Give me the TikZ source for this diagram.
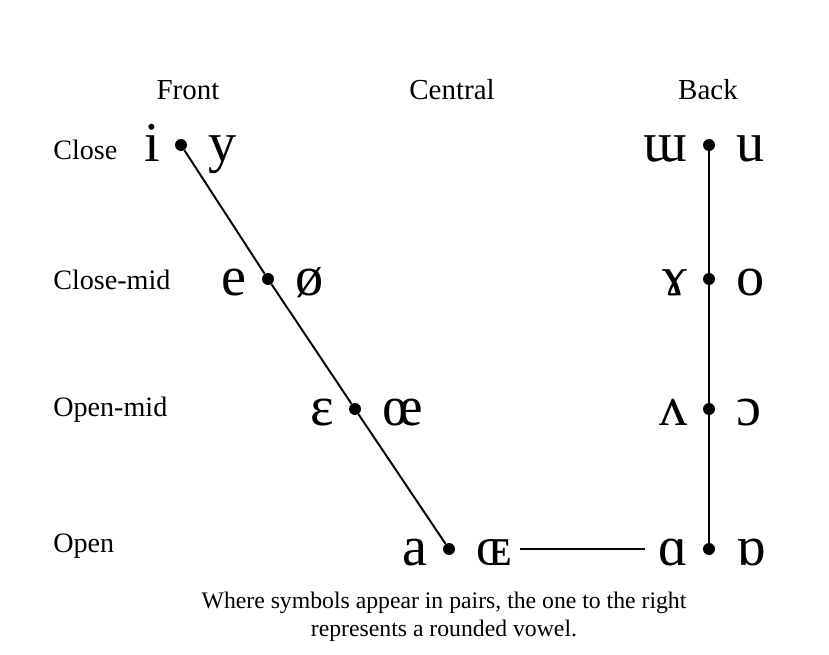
\documentclass[tikz,border=0pt]{standalone}
\usepackage{fontspec}
\setmainfont{Liberation Serif}
\begin{document}
\begin{tikzpicture}[x=0.02cm, y=-0.02cm,
        dot/.style={circle, fill, inner sep=0pt, minimum size=0.24cm},
        vowel/.style={font=\fontsize{32}{32}\selectfont, inner sep=0pt, yshift=-9.5pt},
        unrounded/.style={vowel, anchor=base east, xshift=-0.42cm},
        rounded/.style={vowel, anchor=base west, xshift=0.55cm},
        heading/.style={font=\fontsize{16.5}{18}\selectfont},
        height/.style={font=\fontsize{16}{18}\selectfont, anchor=west, inner sep=0pt},
        line/.style={line width=1.1pt}
    ]

    \useasboundingbox (0,0) rectangle (829,655);

    % Column headings
    \node[heading] (front) at (188,90) {Front};
    \node[heading] (central) at (452,90) {Central};
    \node[heading] (back) at (708,90) {Back};

    % Row headings
    \node[height] (close) at (53,150) {Close};
    \node[height] (closemid) at (53,280) {Close-mid};
    \node[height] (openmid) at (53,410) {Open-mid};
    \node[height] (open) at (53,546) {Open};

    % Front dots
    \node[dot] (f1) at (181,145) {};
    \node[dot] (f2) at (268,279) {};
    \node[dot] (f3) at (355,409) {};
    \node[dot] (f4) at (449,549) {};

    % Back dots
    \node[dot] (b1) at (709,145) {};
    \node[dot] (b2) at (709,279) {};
    \node[dot] (b3) at (709,409) {};
    \node[dot] (b4) at (709,549) {};

    % Front vowels
    \node[unrounded] (vi) at (f1) {i};
    \node[rounded] (vy) at (f1) {y};
    \node[unrounded] (ve) at (f2) {e};
    \node[rounded] (vslo) at (f2) {ø};
    \node[unrounded] (veps) at (f3) {ɛ};
    \node[rounded] (voe) at (f3) {œ};
    \node[unrounded] (va) at (f4) {a};
    \node[rounded] (vOE) at (f4) {ɶ};

    % Back vowels
    \node[unrounded] (vturnm) at (b1) {ɯ};
    \node[rounded] (vu) at (b1) {u};
    \node[unrounded] (vram) at (b2) {ɤ};
    \node[rounded] (vo) at (b2) {o};
    \node[unrounded] (vturnv) at (b3) {ʌ};
    \node[rounded] (vopeno) at (b3) {ɔ};
    \node[unrounded] (vscripta) at (b4) {ɑ};
    \node[rounded] (vturna) at (b4) {ɒ};

    % Connectors
    \draw[line] (f1) -- (f2) -- (f3) -- (f4);
    \draw[line] (b1) -- (b2) -- (b3) -- (b4);
    \draw[line, shorten <=0.14cm, shorten >=0.26cm] (vOE.east |- f4) -- (vscripta.west |- b4);

    % Caption
    \node[font=\fontsize{13.5}{16}\selectfont, align=center] (caption) at (444,617)
        {Where symbols appear in pairs, the one to the right\\represents a rounded vowel.};

\end{tikzpicture}
\end{document}
